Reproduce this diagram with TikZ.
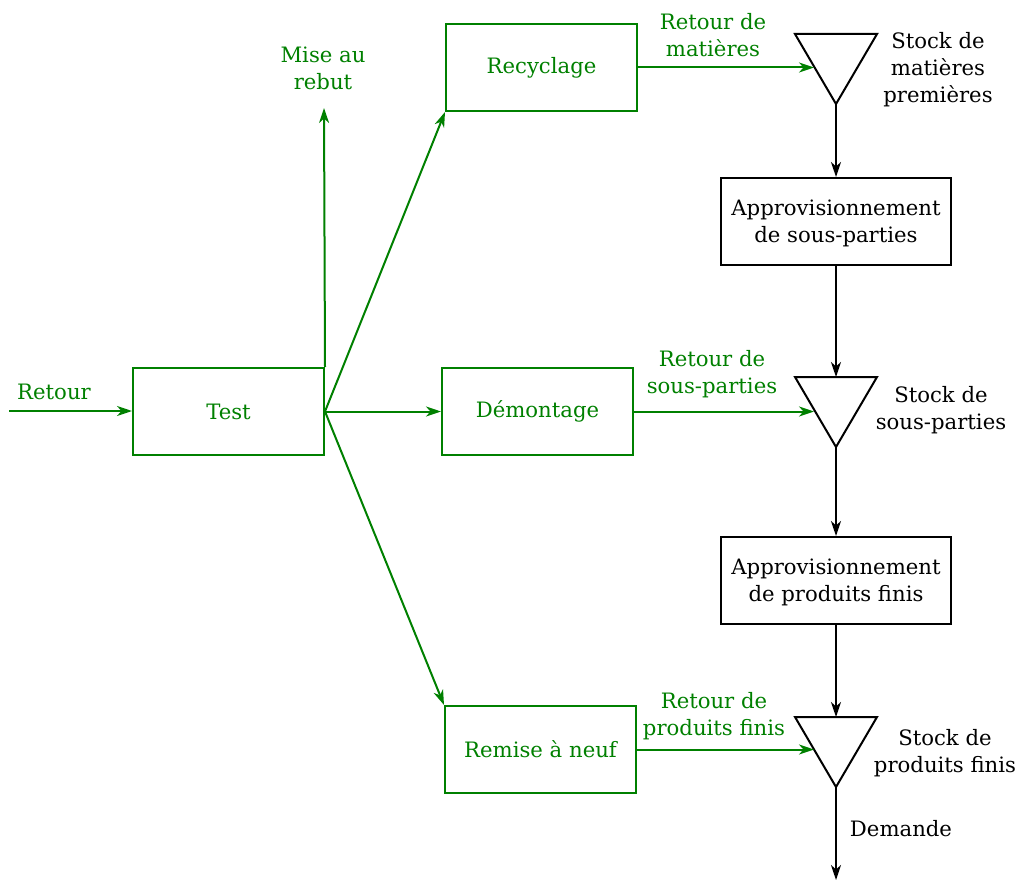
\documentclass[tikz,border=0pt]{standalone}
\usepackage{fontspec}
\setmainfont{DejaVu Serif}
\usetikzlibrary{arrows.meta}
\definecolor{vert}{HTML}{008000}
\tikzset{
  base/.style={font=\fontsize{21.2}{27}\selectfont},
  gbox/.style={base,draw=vert,text=vert,line width=2pt,minimum width=191pt,minimum height=87pt,inner sep=0pt},
  kbox/.style={base,draw=black,text=black,line width=2pt,minimum width=230pt,minimum height=87pt,inner sep=0pt,align=center,text depth=-4.5pt},
  glab/.style={base,text=vert,align=center,inner sep=0pt},
  klab/.style={base,text=black,align=center,inner sep=0pt},
  tip/.style={-{Stealth[length=15pt,width=10pt,inset=4.5pt]}},
  garr/.style={draw=vert,line width=2pt,tip},
  karr/.style={draw=black,line width=2pt,tip},
  tri/.style={draw=black,line width=2pt,line join=miter}
}
\begin{document}
\begin{tikzpicture}[x=1pt,y=-1pt]
\useasboundingbox (0,0) rectangle (1020,880);
% green boxes
\node[gbox] (test) at (228.5,411.5) {Test};
\node[gbox] (recy) at (541.5,67.5) {Recyclage};
\node[gbox] (demo) at (537.5,411.5) {Démontage};
\node[gbox] (remi) at (540.5,749.5) {Remise à neuf};
% black boxes
\node[kbox] (app1) at (836,221.5) {Approvisionnement\\de sous-parties};
\node[kbox] (app2) at (836,580.5) {Approvisionnement\\de produits finis};
% triangles
\coordinate (t1a) at (795,34); \coordinate (t1b) at (877,34); \coordinate (t1c) at (836,104);
\coordinate (t2a) at (795,377); \coordinate (t2b) at (877,377); \coordinate (t2c) at (836,447);
\coordinate (t3a) at (795,717); \coordinate (t3b) at (877,717); \coordinate (t3c) at (836,787);
\draw[tri] (t1a) -- (t1b) -- (t1c) -- cycle;
\draw[tri] (t2a) -- (t2b) -- (t2c) -- cycle;
\draw[tri] (t3a) -- (t3b) -- (t3c) -- cycle;
\coordinate (t1top) at (836,34); \coordinate (t2top) at (836,377); \coordinate (t3top) at (836,717);
\coordinate (t1in) at (814,68); \coordinate (t2in) at (814,411); \coordinate (t3in) at (814,750);
% free ends
\coordinate (start) at (9,411);
\coordinate (rebut) at (324,108);
\coordinate (dem) at (836,880);
% green connectors
\draw[garr] (start) -- (start -| test.west);
\draw[garr] (test.north east) -- (rebut);
\draw[garr] (test.east) -- (recy.south west);
\draw[garr] (test.east) -- (demo.west);
\draw[garr] (test.east) -- (remi.north west);
\draw[garr] (recy.east) -- (recy.east -| t1in);
\draw[garr] (demo.east) -- (demo.east -| t2in);
\draw[garr] (remi.east) -- (remi.east -| t3in);
% black connectors
\draw[karr] (t1c) -- (app1.north);
\draw[karr] (app1.south) -- (t2top);
\draw[karr] (t2c) -- (app2.north);
\draw[karr] (app2.south) -- (t3top);
\draw[karr] (t3c) -- (dem);
% labels
\node[glab] (l1) at (54,392) {Retour};
\node[glab] (l2) at (323,68) {Mise au\\rebut};
\node[glab] (l3) at (713,35) {Retour de\\matières};
\node[glab] (l4) at (712,374) {Retour de\\sous-parties};
\node[glab] (l5) at (714,716) {Retour de\\produits finis};
\node[klab] (l6) at (938,70) {Stock de\\matières\\premières};
\node[klab] (l7) at (941,410) {Stock de\\sous-parties};
\node[klab] (l8) at (945,753) {Stock de\\produits finis};
\node[klab] (l9) at (901,829) {Demande};
\end{tikzpicture}
\end{document}
